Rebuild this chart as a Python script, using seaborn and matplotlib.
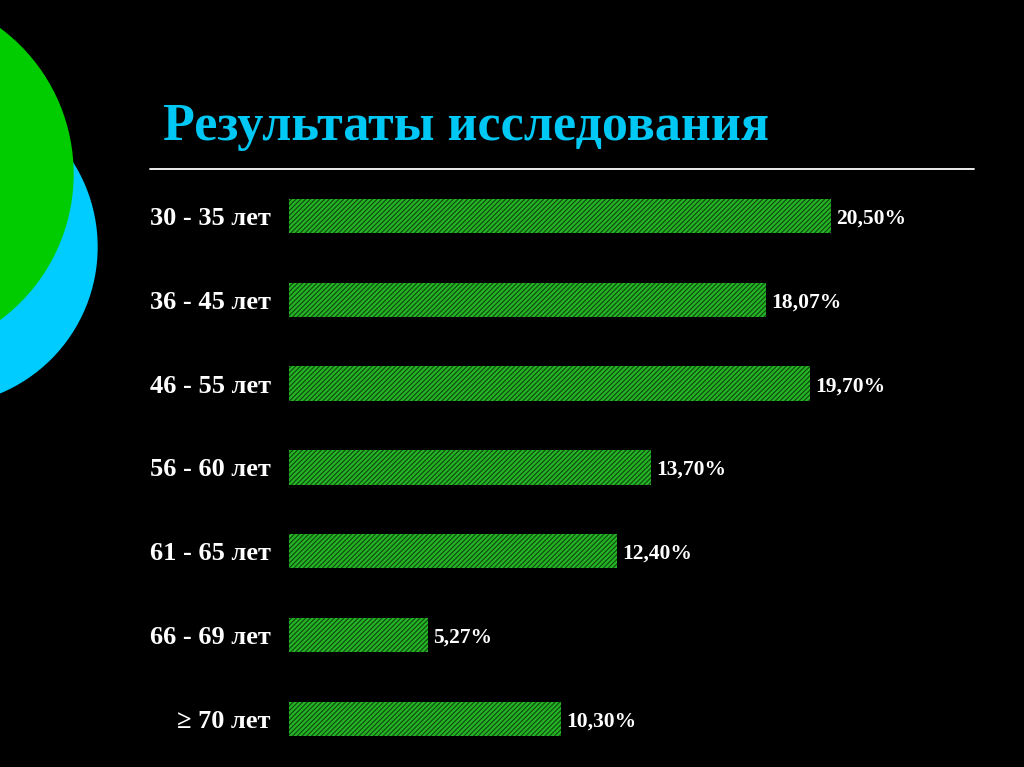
import pandas as pd
import seaborn as sns
import matplotlib.pyplot as plt
from matplotlib.patches import Circle

# данные с картинки
groups = ['30 - 35 лет', '36 - 45 лет', '46 - 55 лет', '56 - 60 лет',
          '61 - 65 лет', '66 - 69 лет', '≥ 70 лет']
shares = [20.50, 18.07, 19.70, 13.70, 12.40, 5.27, 10.30]
share_labels = ['20,50%', '18,07%', '19,70%', '13,70%', '12,40%', '5,27%', '10,30%']

sns.set_theme(style='white')
plt.rcParams['font.family'] = ['Liberation Serif', 'DejaVu Serif']
plt.rcParams['hatch.linewidth'] = 0.9

fig = plt.figure(figsize=(10.24, 7.67), dpi=100)
fig.patch.set_facecolor('black')

# круги слева (фон слайда)
deco = fig.add_axes([0, 0, 1, 1])
deco.set_xlim(0, 1024)
deco.set_ylim(767, 0)
deco.axis('off')
deco.add_patch(Circle((-61, 247), 158, color='#00ccff', zorder=1))
deco.add_patch(Circle((-108, 174), 181, color='#00cc00', zorder=2))
deco.plot([150, 974], [169, 169], color='white', lw=1.3)
deco.text(163, 140, 'Результаты исследования', color='#00c8f5', fontsize=37.5,
          fontweight='bold', ha='left', va='baseline')

df = pd.DataFrame({'Группа': groups, 'Доля': shares})

ax = fig.add_axes([289 / 1024, 1 - 760.7 / 767, 687 / 1024, 586.6 / 767])
ax.set_facecolor('none')
sns.barplot(data=df, x='Доля', y='Группа', orient='h', color='#26b526',
            width=0.41, ax=ax, saturation=1)
for bar in ax.patches:
    bar.set_hatch('///////')
    bar.set_edgecolor('#0e4f0e')
    bar.set_linewidth(0)

ax.set_xlim(0, 26)
ax.set_ylim(6.5, -0.5)
ax.set_xlabel('')
ax.set_ylabel('')
ax.set_xticks([])
ax.tick_params(axis='y', length=0, pad=13, colors='white', labelsize=19)
for lbl in ax.get_yticklabels():
    lbl.set_fontweight('bold')
    lbl.set_verticalalignment('center_baseline')
sns.despine(ax=ax, left=True, bottom=True)

for i, (v, t) in enumerate(zip(shares, share_labels)):
    ax.text(v + 0.2, i, t, color='white', fontsize=15.5, fontweight='bold',
            ha='left', va='center_baseline')

fig.savefig('out.png', dpi=100, facecolor='black')
